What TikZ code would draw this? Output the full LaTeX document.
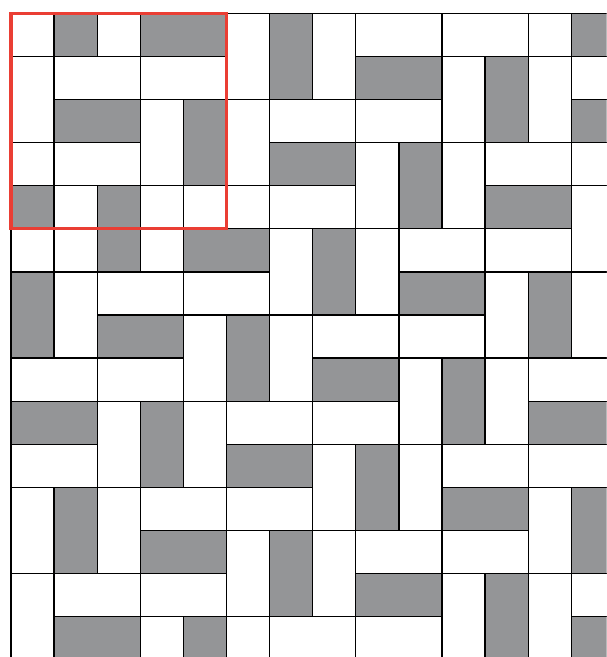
\documentclass[tikz,border=0pt]{standalone}
\definecolor{tilegray}{RGB}{148,149,151}
\definecolor{boxred}{RGB}{234,62,52}
\begin{document}
\begin{tikzpicture}[yscale=-1,line width=0.9pt]
\useasboundingbox (-0.255,-0.308) rectangle (13.819,14.935);
\clip (-0.255,-0.308) rectangle (13.819,14.935);
% grey tiles
\filldraw[fill=tilegray] (1,0) rectangle (2,1) (3,0) rectangle (5,1) (6,0) rectangle (7,2) (13,0) rectangle (14,1);
\filldraw[fill=tilegray] (8,1) rectangle (10,2) (11,1) rectangle (12,3);
\filldraw[fill=tilegray] (1,2) rectangle (3,3) (4,2) rectangle (5,4) (13,2) rectangle (14,3);
\filldraw[fill=tilegray] (6,3) rectangle (8,4) (9,3) rectangle (10,5);
\filldraw[fill=tilegray] (0,4) rectangle (1,5) (2,4) rectangle (3,6) (11,4) rectangle (13,5);
\filldraw[fill=tilegray] (4,5) rectangle (6,6) (7,5) rectangle (8,7);
\filldraw[fill=tilegray] (0,6) rectangle (1,8) (9,6) rectangle (11,7) (12,6) rectangle (13,8);
\filldraw[fill=tilegray] (2,7) rectangle (4,8) (5,7) rectangle (6,9);
\filldraw[fill=tilegray] (7,8) rectangle (9,9) (10,8) rectangle (11,10);
\filldraw[fill=tilegray] (0,9) rectangle (2,10) (3,9) rectangle (4,11) (12,9) rectangle (14,10);
\filldraw[fill=tilegray] (5,10) rectangle (7,11) (8,10) rectangle (9,12);
\filldraw[fill=tilegray] (1,11) rectangle (2,13) (10,11) rectangle (12,12) (13,11) rectangle (14,13);
\filldraw[fill=tilegray] (3,12) rectangle (5,13) (6,12) rectangle (7,14);
\filldraw[fill=tilegray] (8,13) rectangle (10,14) (11,13) rectangle (12,15);
\filldraw[fill=tilegray] (1,14) rectangle (3,15) (4,14) rectangle (5,15) (13,14) rectangle (14,15);
% white tiles
\draw (0,0) rectangle (1,1) (2,0) rectangle (3,1) (5,0) rectangle (6,2) (7,0) rectangle (8,2) (8,0) rectangle (10,1) (10,0) rectangle (12,1) (12,0) rectangle (13,1);
\draw (0,1) rectangle (1,3) (1,1) rectangle (3,2) (3,1) rectangle (5,2) (10,1) rectangle (11,3) (12,1) rectangle (13,3) (13,1) rectangle (14,2);
\draw (3,2) rectangle (4,4) (5,2) rectangle (6,4) (6,2) rectangle (8,3) (8,2) rectangle (10,3);
\draw (0,3) rectangle (1,4) (1,3) rectangle (3,4) (8,3) rectangle (9,5) (10,3) rectangle (11,5) (11,3) rectangle (13,4) (13,3) rectangle (14,4);
\draw (1,4) rectangle (2,6) (3,4) rectangle (4,6) (4,4) rectangle (6,5) (6,4) rectangle (8,5) (13,4) rectangle (14,6);
\draw (0,5) rectangle (1,6) (6,5) rectangle (7,7) (8,5) rectangle (9,7) (9,5) rectangle (11,6) (11,5) rectangle (13,6);
\draw (1,6) rectangle (2,8) (2,6) rectangle (4,7) (4,6) rectangle (6,7) (11,6) rectangle (12,8) (13,6) rectangle (14,8);
\draw (4,7) rectangle (5,9) (6,7) rectangle (7,9) (7,7) rectangle (9,8) (9,7) rectangle (11,8);
\draw (0,8) rectangle (2,9) (2,8) rectangle (4,9) (9,8) rectangle (10,10) (11,8) rectangle (12,10) (12,8) rectangle (14,9);
\draw (2,9) rectangle (3,11) (4,9) rectangle (5,11) (5,9) rectangle (7,10) (7,9) rectangle (9,10);
\draw (0,10) rectangle (2,11) (7,10) rectangle (8,12) (9,10) rectangle (10,12) (10,10) rectangle (12,11) (12,10) rectangle (14,11);
\draw (0,11) rectangle (1,13) (2,11) rectangle (3,13) (3,11) rectangle (5,12) (5,11) rectangle (7,12) (12,11) rectangle (13,13);
\draw (5,12) rectangle (6,14) (7,12) rectangle (8,14) (8,12) rectangle (10,13) (10,12) rectangle (12,13);
\draw (0,13) rectangle (1,15) (1,13) rectangle (3,14) (3,13) rectangle (5,14) (10,13) rectangle (11,15) (12,13) rectangle (13,15) (13,13) rectangle (14,14);
\draw (3,14) rectangle (4,15) (5,14) rectangle (6,15) (6,14) rectangle (8,15) (8,14) rectangle (10,15);
% red frame
\draw[boxred,line width=2.2pt] (0,0) rectangle (5,5);
\end{tikzpicture}
\end{document}
